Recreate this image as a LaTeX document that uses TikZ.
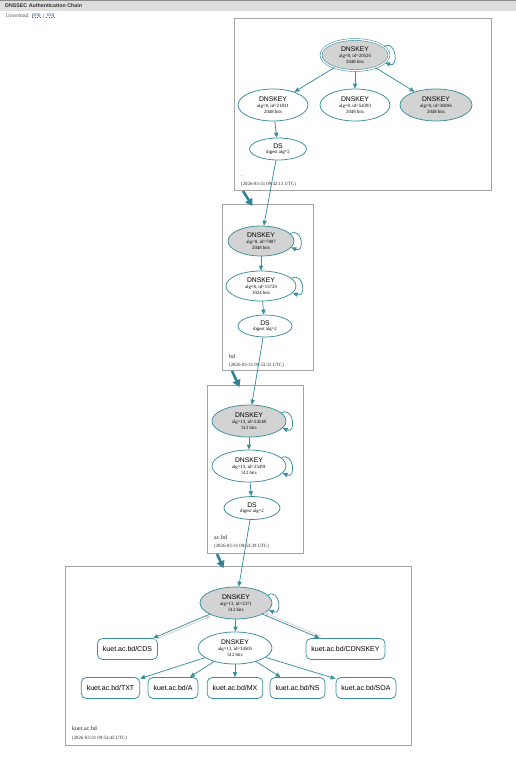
\documentclass[tikz,border=0pt]{standalone}
\usepackage{fontspec}
\setmainfont{Liberation Serif}
\newfontfamily\lsans{Liberation Sans}
\usetikzlibrary{arrows.meta,shapes.geometric}
\definecolor{edgec}{HTML}{3A8EA0}
\definecolor{crossc}{HTML}{2E8496}
\definecolor{boxc}{HTML}{A4A4A4}
\definecolor{keyfill}{HTML}{D3D3D3}
\definecolor{backc}{HTML}{D6D6D6}
\definecolor{linkc}{HTML}{2F5C9A}
\newcommand{\dkey}[2]{{\lsans\fontsize{6.8}{6.8}\selectfont DNSKEY}\\#1\\#2}
\newcommand{\dsl}{{\lsans\fontsize{6.8}{6.8}\selectfont DS}\\digest alg=2}
\begin{document}
\begin{tikzpicture}[x=1pt,y=-1pt,
  edge/.style={draw=edgec, line width=0.75pt, -{Triangle[length=5pt,width=4.2pt]}},
  backedge/.style={draw=backc, line width=0.9pt, -{Triangle[length=5pt,width=4.2pt]}},
  key/.style={ellipse, draw=edgec, line width=0.75pt, inner sep=0pt, align=center,
    font=\fontsize{4.8}{5.7}\selectfont, minimum width=72pt, minimum height=32pt},
  ksk/.style={key, fill=keyfill},
  dsnode/.style={key, minimum width=56pt, minimum height=22pt},
  rec/.style={rectangle, rounded corners=5pt, draw=edgec, line width=0.75pt,
    minimum height=21pt, inner xsep=5.5pt, font=\lsans\fontsize{7}{8}\selectfont},
  zone/.style={draw=boxc, line width=0.95pt, fill=white},
  zlabel/.style={anchor=west, font=\fontsize{6}{7}\selectfont, inner sep=0pt, text=black!85},
  stamp/.style={anchor=west, font=\fontsize{4.8}{6}\selectfont, inner sep=0pt, text=black!85},
  cross/.style={draw=crossc, line width=2.6pt, -{Triangle[length=7pt,width=8pt]}},
  hdr/.style={anchor=west, inner sep=0pt},
]
\useasboundingbox (0,0) rectangle (516,761);
\fill[white] (0,0) rectangle (516,761);
% header
\fill[black!13] (0,0) rectangle (516,11);
\draw[black!45, line width=0.8pt] (0,0.4) -- (516,0.4);
\node[hdr, font=\lsans\bfseries\fontsize{5.3}{6}\selectfont, text=black!80] (title) at (5,6) {DNSSEC Authentication Chain};
\node[hdr, font=\lsans\fontsize{5}{6}\selectfont, text=black!60] (dl) at (6,16) {Download:};
\node[hdr, font=\lsans\fontsize{5}{6}\selectfont, text=linkc] (png) at ([xshift=2pt]dl.east) {png};
\node[hdr, font=\lsans\fontsize{5}{6}\selectfont, text=black!60] (bar) at ([xshift=2pt]png.east) {|};
\node[hdr, font=\lsans\fontsize{5}{6}\selectfont, text=linkc] (svg) at ([xshift=2pt]bar.east) {svg};
\draw[linkc, dotted, line width=0.5pt] ([yshift=1.2pt]png.south west) -- ([yshift=1.2pt]png.south east);
\draw[linkc, dotted, line width=0.5pt] ([yshift=1.2pt]svg.south west) -- ([yshift=1.2pt]svg.south east);

% zone boxes
\draw[zone] (234,18) rectangle (491,190);
\draw[zone] (222,204) rectangle (313,370);
\draw[zone] (207,385) rectangle (303,553);
\draw[zone] (65,566) rectangle (411,745);

% root zone
\node[ksk, draw=edgec, line width=0.55pt, double=white, double distance=1.3pt,
      minimum width=68pt, minimum height=31pt] (rk) at (355,55) {\dkey{alg=8, id=20526}{2048 bits}};
\node[key, minimum width=70pt] (r1) at (273,105) {\dkey{alg=8, id=21831}{2048 bits}};
\node[key, minimum width=70pt] (r2) at (355,105) {\dkey{alg=8, id=54393}{2048 bits}};
\node[ksk, minimum width=72pt] (r3) at (436,105) {\dkey{alg=8, id=38696}{2048 bits}};
\node[dsnode, minimum width=57pt] (rds) at (278,149) {\dsl};
\node[zlabel] (rlab) at (241,176) {.};
\node[stamp] (rst) at (241,184) {(2026-03-31 09:42:13 UTC)};

% bd zone
\node[ksk, minimum width=66pt, minimum height=30pt] (bk) at (261,241) {\dkey{alg=8, id=7807}{2048 bits}};
\node[key, minimum width=70pt, minimum height=30pt] (bz) at (261,286) {\dkey{alg=8, id=15720}{1024 bits}};
\node[dsnode, minimum width=54pt] (bds) at (265,326) {\dsl};
\node[zlabel] (blab) at (229,356) {bd};
\node[stamp] (bst) at (229,365) {(2026-03-31 09:53:32 UTC)};

% ac.bd zone
\node[ksk, minimum width=74pt] (ak) at (249,421) {\dkey{alg=13, id=24148}{512 bits}};
\node[key, minimum width=74pt] (az) at (249,466) {\dkey{alg=13, id=25491}{512 bits}};
\node[dsnode, minimum width=56pt, minimum height=23pt] (ads) at (252,508) {\dsl};
\node[zlabel] (alab) at (214,537) {ac.bd};
\node[stamp] (ast) at (214,546) {(2026-03-31 09:53:39 UTC)};

% kuet.ac.bd zone
\node[ksk, minimum width=72pt] (kk) at (236,603) {\dkey{alg=13, id=2371}{512 bits}};
\node[key, minimum width=74pt] (kz) at (235,648) {\dkey{alg=13, id=34505}{512 bits}};
\node[rec] (cds) at (127.5,649) {kuet.ac.bd/CDS};
\node[rec] (cdnskey) at (345.5,649) {kuet.ac.bd/CDNSKEY};
\node[rec] (txt) at (110.5,688) {kuet.ac.bd/TXT};
\node[rec] (rra) at (173,688) {kuet.ac.bd/A};
\node[rec] (mx) at (235,688) {kuet.ac.bd/MX};
\node[rec] (ns) at (297.5,688) {kuet.ac.bd/NS};
\node[rec] (soa) at (366,688) {kuet.ac.bd/SOA};
\node[zlabel] (klab) at (72,728) {kuet.ac.bd};
\node[stamp] (kst) at (72,738) {(2026-03-31 09:53:45 UTC)};

% edges root
\draw[edge] (rk) -- (r1);
\draw[edge] (rk) -- (r2);
\draw[edge] (rk) -- (r3);
\draw[edge] (r1) -- (rds);
\draw[edge] (rk.16) .. controls +(12,-8) and +(14,6) .. (rk.-14);
% root -> bd
\draw[edge] (rds) -- (bk);
\draw[edge] (bk) -- (bz);
\draw[edge] (bz) -- (bds);
\draw[edge] (bk.14) .. controls +(12,-7) and +(14,6) .. (bk.-12);
\draw[edge] (bz.14) .. controls +(12,-7) and +(14,6) .. (bz.-12);
% bd -> ac.bd
\draw[edge] (bds) -- (ak);
\draw[edge] (ak) -- (az);
\draw[edge] (az) -- (ads);
\draw[edge] (ak.14) .. controls +(12,-7) and +(14,6) .. (ak.-12);
\draw[edge] (az.14) .. controls +(12,-7) and +(14,6) .. (az.-12);
% ac.bd -> kuet
\draw[edge] (ads) -- (kk);
\draw[edge] (kk) -- (kz);
\draw[edge] (kk.14) .. controls +(12,-7) and +(14,6) .. (kk.-12);
\draw[backedge, transform canvas={xshift=1.2pt,yshift=-1.8pt}] (cds) -- (kk);
\draw[backedge, transform canvas={xshift=1.2pt,yshift=1.8pt}] (cdnskey) -- (kk);
\draw[edge] (kk) -- (cds);
\draw[edge] (kk) -- (cdnskey);
\draw[edge] (kz) -- (txt);
\draw[edge] (kz) -- (rra);
\draw[edge] (kz) -- (mx);
\draw[edge] (kz) -- (ns);
\draw[edge] (kz) -- (soa);

% thick cluster-to-cluster arrows
\coordinate (c1a) at (243,191);
\coordinate (c1b) at (252.5,206);
\coordinate (c2a) at (232,371);
\coordinate (c2b) at (239.5,387);
\coordinate (c3a) at (217,554);
\coordinate (c3b) at (223.5,568);
\draw[cross] (c1a) -- (c1b);
\draw[cross] (c2a) -- (c2b);
\draw[cross] (c3a) -- (c3b);
\end{tikzpicture}
\end{document}
